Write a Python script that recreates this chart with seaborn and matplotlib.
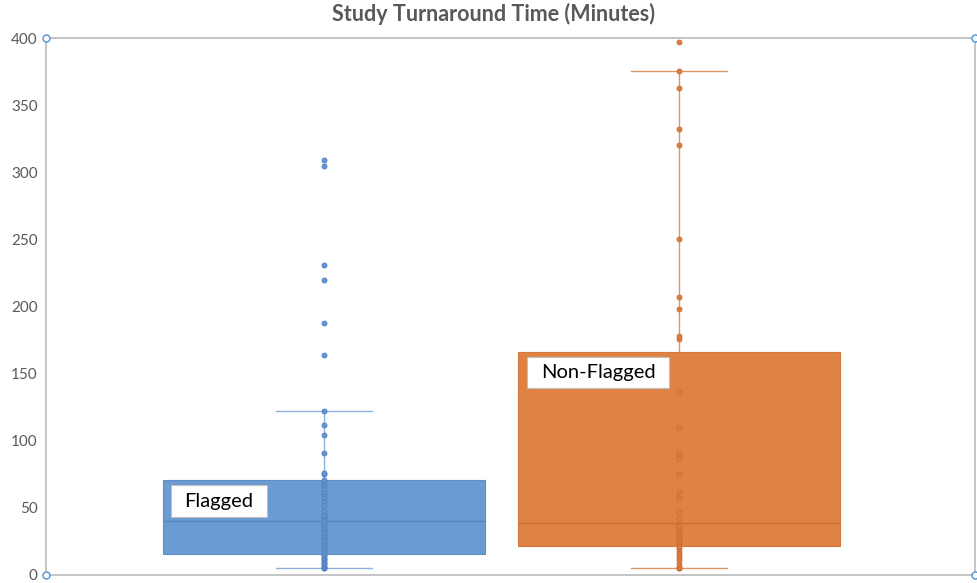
import numpy as np
import pandas as pd
import matplotlib
matplotlib.use("Agg")
import matplotlib.pyplot as plt
from matplotlib.path import Path
import seaborn as sns

# turnaround times in minutes
groups = ["Flagged", "Non-Flagged"]

flagged = [5, 5, 6, 7, 8, 9, 10, 11, 12, 13, 14, 15,
           16,
           18, 20, 22, 24, 26, 28, 30, 32, 34, 36, 38,
           40,
           43, 45, 48, 52, 55, 58, 60, 62, 64, 67, 69,
           71,
           75, 76, 91, 104, 112, 122, 164, 188, 220, 231, 305, 309]

non_flagged = [5, 5.5, 6.2, 8, 11.2, 13.6, 15, 17.4, 19,
               21,
               23.6, 24.8, 26.6, 28.5, 30.5, 32.3, 34, 35.5, 36.5,
               41.5, 47.2, 57.1, 62, 75.5, 87.4, 90.6, 109.7, 136,
               176, 178, 198, 207, 250, 320, 332, 362.5, 375.6, 397]

y_ticks = [0, 50, 100, 150, 200, 250, 300, 350, 400]

df = pd.DataFrame({
    "group": ["Flagged"] * len(flagged) + ["Non-Flagged"] * len(non_flagged),
    "minutes": flagged + non_flagged,
})

fill = {"Flagged": "#6A9BD1", "Non-Flagged": "#DF8244"}
edge = {"Flagged": "#5F8FCB", "Non-Flagged": "#D7793D"}
whisk = {"Flagged": "#8DB1DD", "Non-Flagged": "#E39463"}
med = {"Flagged": "#5A86BF", "Non-Flagged": "#C86F36"}
dot = {"Flagged": "#6396D2", "Non-Flagged": "#DE7E3E"}
dot_edge = {"Flagged": "#4F80BF", "Non-Flagged": "#C96C30"}

sns.set_theme(style="white")
plt.rcParams["font.family"] = ["Lato", "DejaVu Sans"]

fig = plt.figure(figsize=(9.77, 5.83), dpi=100)
ax = fig.add_axes([46 / 977, 8 / 583, 929 / 977, 537 / 583])

for g in groups:
    sub = df[df["group"] == g]
    sns.boxplot(data=sub, x="group", y="minutes", order=groups, ax=ax,
                color=fill[g], saturation=1, width=0.905, showfliers=False,
                capwidths=0.27,
                boxprops=dict(facecolor=fill[g], edgecolor=edge[g], linewidth=0.8),
                medianprops=dict(color=med[g], linewidth=1.0),
                whiskerprops=dict(color=whisk[g], linewidth=1.0),
                capprops=dict(color=whisk[g], linewidth=1.0))
    sns.stripplot(data=sub, x="group", y="minutes", order=groups, ax=ax,
                  jitter=False, size=3.6, color=dot[g], edgecolor=dot_edge[g],
                  linewidth=0.6, zorder=4)

ax.set_xlim(-0.783, 1.834)
ax.set_ylim(0, 400)
ax.set_yticks(y_ticks)
ax.set_yticklabels([str(t) for t in y_ticks], color="#595959", fontsize=11)
ax.set_xticks([])
ax.set_xlabel("")
ax.set_ylabel("")
ax.tick_params(axis="y", length=0, pad=6)

for s in ax.spines.values():
    s.set_color("#BFBFBF")
    s.set_linewidth(1.3)

# selection handles at the plot corners
for cx, cy in [(0, 0), (0, 1), (1, 0), (1, 1)]:
    ax.plot(cx, cy, marker="o", markersize=5, markerfacecolor="white",
            markeredgecolor="#5B9BD5", markeredgewidth=1.1,
            transform=ax.transAxes, clip_on=False, zorder=6)


def wide_box(x0, y0, width, height, mutation_size):
    # rectangle with more side padding than top/bottom padding
    px = 0.68 * mutation_size
    py = 0.36 * mutation_size
    x0, y0 = x0 - px, y0 - py
    x1, y1 = x0 + width + 2 * px, y0 + height + 2 * py
    return Path([(x0, y0), (x1, y0), (x1, y1), (x0, y1), (x0, y0)], closed=True)


label_box = dict(boxstyle=wide_box, facecolor="white", edgecolor="#BFBFBF", linewidth=0.8)
ax.text(-0.296, 55, "Flagged", ha="center", va="center", fontsize=14.5,
        color="black", bbox=label_box, zorder=7)
ax.text(0.772, 151, "Non-Flagged", ha="center", va="center", fontsize=14.5,
        color="black", bbox=label_box, zorder=7)

fig.text(0.505, 0.976, "Study Turnaround Time (Minutes)", ha="center", va="center",
         fontsize=15.5, fontweight="bold", color="#595959")

fig.savefig("out.png", dpi=100)
